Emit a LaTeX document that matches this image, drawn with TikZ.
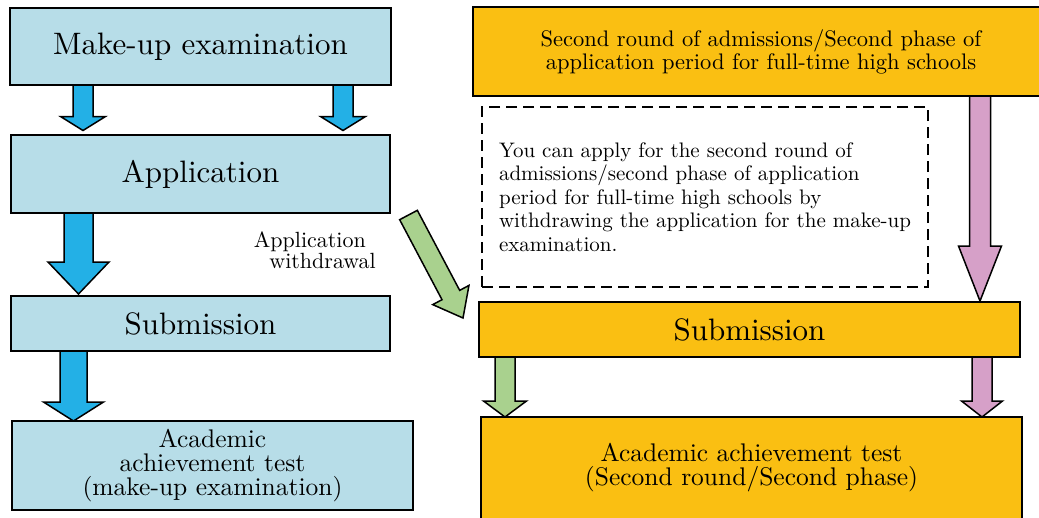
\documentclass[tikz,border=0pt]{standalone}
\usepackage{fontspec}
\setmainfont{lmroman10-regular.otf}
\usetikzlibrary{calc}
\definecolor{boxblue}{RGB}{183,221,232}
\definecolor{arrblue}{RGB}{35,176,230}
\definecolor{boxorange}{RGB}{250,191,18}
\definecolor{arrgreen}{RGB}{169,209,142}
\definecolor{arrpink}{RGB}{214,160,200}
% block arrow: style, from, to, shaft half width, head half width, head length
\newcommand{\blkarrow}[6]{%
\coordinate (ba-s) at (#2);
\coordinate (ba-e) at (#3);
\coordinate (ba-h) at ($(ba-e)!#6!(ba-s)$);
\draw[#1] ($(ba-s)!#4!90:(ba-e)$) -- ($(ba-h)!#4!90:(ba-e)$) -- ($(ba-h)!#5!90:(ba-e)$) -- (ba-e)
  -- ($(ba-h)!#5!-90:(ba-e)$) -- ($(ba-h)!#4!-90:(ba-e)$) -- ($(ba-s)!#4!-90:(ba-e)$) -- cycle;
}

\begin{document}
\begin{tikzpicture}[x=1pt,y=-1pt,
  box/.style={draw,line width=1.5pt,inner sep=0pt,outer sep=0pt,align=center},
  bigtext/.style={font=\fontsize{31}{37}\selectfont},
  testtext/.style={font=\fontsize{25.5}{24}\selectfont},
  blockarr/.style={draw,line width=1.5pt,fill=#1}]
\useasboundingbox (0,0) rectangle (1039,517);
\clip (0,0) rectangle (1039,517);
%left side
\node[box,bigtext,fill=boxblue,minimum width=381pt,minimum height=77pt] (mk) at (200.5,46.5) {Make-up examination};
\node[box,bigtext,fill=boxblue,minimum width=379pt,minimum height=78pt] (app) at (200.5,174) {Application};
\node[box,bigtext,fill=boxblue,minimum width=379pt,minimum height=55pt] (subl) at (200.5,323.5) {Submission};
\node[box,testtext,fill=boxblue,minimum width=401pt,minimum height=89pt] (testl) at (212.5,465.5) {Academic\\achievement test\\(make-up examination)};
\foreach \x in {83,343}{
\blkarrow{blockarr=arrblue}{mk.south -| \x,0}{$(app.north -| \x,0)+(0,-4.5)$}{10pt}{22.5pt}{14pt}
}
\blkarrow{blockarr=arrblue}{app.south -| 78.5,0}{$(subl.north -| 78.5,0)+(0,-2)$}{14.5pt}{30.5pt}{32pt}
\blkarrow{blockarr=arrblue}{subl.south -| 73.5,0}{testl.north -| 73.5,0}{13.5pt}{30pt}{19pt}
%right side
\node[box,fill=boxorange,minimum width=576pt,minimum height=89pt,font=\fontsize{22.5}{23}\selectfont] (round2) at (761,51.5) {Second round of admissions/Second phase of\\application period for full-time high schools};
\node[box,align=left,dash pattern=on 11pt off 6pt,minimum width=446pt,minimum height=180pt,font=\fontsize{21}{23.5}\selectfont] (note) at (705,197) {You can apply for the second round of\\admissions/second phase of application\\period for full-time high schools by\\withdrawing the application for the make-up\\examination.};
\node[box,bigtext,fill=boxorange,minimum width=541pt,minimum height=55pt] (subr) at (749.5,329.5) {Submission};
\node[box,testtext,fill=boxorange,minimum width=541pt,minimum height=102pt] (testr) at (751.5,468) {Academic achievement test\\(Second round/Second phase)};
\blkarrow{blockarr=arrpink}{round2.south -| 980,0}{$(subr.north -| 980,0)+(0,-1)$}{10.5pt}{21.5pt}{55pt}
\blkarrow{blockarr=arrgreen}{subr.south -| 505,0}{testr.north -| 505,0}{10pt}{21.5pt}{16pt}
\blkarrow{blockarr=arrpink}{subr.south -| 982,0}{testr.north -| 982,0}{10pt}{20.5pt}{16pt}
% withdrawal
\node[inner sep=0pt,anchor=east,align=right,font=\fontsize{22}{21}\selectfont] (wdlabel) at (376,250) {Application\hspace*{10pt}\\withdrawal};
\coordinate (wd-a) at (408.5,215);
\coordinate (wd-b) at (463,318);
\blkarrow{blockarr=arrgreen}{wd-a}{wd-b}{10pt}{20.5pt}{26pt}
\end{tikzpicture}
\end{document}
